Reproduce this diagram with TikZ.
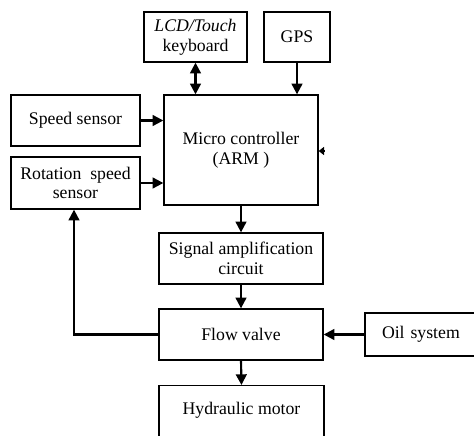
\documentclass[tikz,border=0pt]{standalone}
\usepackage{fontspec}
\setmainfont{Liberation Serif}
\usetikzlibrary{arrows.meta, positioning, calc}

\tikzset{
	blockbox/.style={draw, line width=1pt, align=center, inner sep=2pt,
		font=\fontsize{13.3}{14.8}\selectfont},
	flowarrow/.style={line width=1.6pt, -{Triangle[length=8pt,width=8pt]}},
}

\begin{document}
\begin{tikzpicture}[x=0.75pt,y=-0.75pt]
	\clip (0,0) rectangle (474,435);
	\useasboundingbox (0,0) rectangle (474,435);
	% blocks
	\node[blockbox, minimum width=77.25pt, minimum height=37.5pt] (lcd) at (195.5,37) {\textit{LCD/Touch}\\keyboard};
	\node[blockbox, minimum width=49.5pt, minimum height=37.5pt] (gps) at (297,37) {GPS};
	\node[blockbox, minimum width=96.75pt, minimum height=38.25pt] (speed) at (75.5,120.5) {Speed sensor};
	\node[blockbox, minimum width=96.75pt, minimum height=39pt] (rot) at (75.5,183) {Rotation~ speed\\sensor};
	\node[blockbox, minimum width=115.5pt, minimum height=82.5pt] (mcu) at (241,150) {Micro controller\\(ARM )};
	\node[blockbox, minimum width=123pt, minimum height=38.25pt] (amp) at (241,258.5) {Signal amplification\\circuit};
	\node[blockbox, minimum width=123pt, minimum height=38.25pt] (valve) at (241,334.5) {Flow valve};
	\node[blockbox, minimum width=97.5pt, minimum height=32.25pt, text width=80pt, align=left] (oil) at (430,334.5) {\hspace*{4pt}Oil system};
	\node[blockbox, minimum width=123.75pt, minimum height=45pt, anchor=north] (motor) at (241.5,385) {};
	\node at (241.5,410) [font=\fontsize{13.3}{14.8}\selectfont] (motortext) {Hydraulic motor};
	\coordinate (stub) at (324,151);
	% connectors
	\draw[flowarrow, {Triangle[length=8pt,width=8pt]}-{Triangle[length=8pt,width=8pt]}] (lcd.south) -- (lcd.south |- mcu.north);
	\draw[flowarrow] (gps.south) -- (gps.south |- mcu.north);
	\draw[flowarrow] (speed.east) -- (speed.east -| mcu.west);
	\draw[flowarrow] (rot.east) -- (rot.east -| mcu.west);
	\draw[flowarrow, -{Triangle[length=4pt,width=6pt]}] (stub) -- (stub -| mcu.east);
	\draw[flowarrow] (mcu.south) -- (amp.north);
	\draw[flowarrow] (amp.south) -- (valve.north);
	\draw[flowarrow] (valve.south) -- (motor.north);
	\draw[flowarrow] (oil.west) -- (valve.east);
	\draw[flowarrow] (valve.west) -| ($(rot.south)+(-1.5,0)$);
\end{tikzpicture}
\end{document}
